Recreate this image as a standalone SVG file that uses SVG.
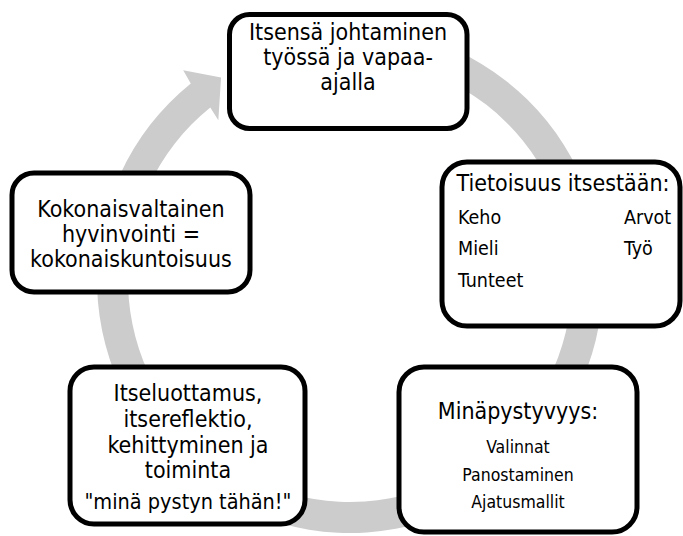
<svg xmlns="http://www.w3.org/2000/svg" width="683" height="536" viewBox="0 0 683 536">
  <style>
    .box { fill: #ffffff; stroke: #000000; stroke-width: 5; }
    .ring { fill: #cccccc; stroke: none; }
    text { font-family: "DejaVu Sans Condensed", "DejaVu Sans", sans-serif; font-stretch: condensed; fill: #000000; }
    .big { font-size: 23px; text-anchor: middle; }
    .mid { font-size: 19.5px; }
    .small { font-size: 17.5px; text-anchor: middle; }
  </style>

  <!-- circular arrow running clockwise round the five stages -->
  <g id="connectors">
    <path class="ring" d="M372.05 27.96 A253 253 0 1 1 190.78 83.38 L183.17 70.26 L221.05 77.59 L218.33 120.27 L210.29 107.47 A222 222 0 1 0 369.35 58.85 Z"/>
  </g>

  <g id="node-johtaminen">
    <rect class="box" x="229.5" y="14.5" width="237.5" height="114" rx="20"/>
    <text class="big" x="348" y="40">Itsensä johtaminen</text>
    <text class="big" x="348" y="65">työssä ja vapaa-</text>
    <text class="big" x="348" y="90">ajalla</text>
  </g>

  <g id="node-tietoisuus">
    <rect class="box" x="442" y="162" width="238" height="164" rx="25"/>
    <text class="big" x="563" y="191">Tietoisuus itsestään:</text>
    <text class="mid" x="458" y="224">Keho</text>
    <text class="mid" x="458" y="255">Mieli</text>
    <text class="mid" x="458" y="287">Tunteet</text>
    <text class="mid" x="624" y="224">Arvot</text>
    <text class="mid" x="624" y="255">Työ</text>
  </g>

  <g id="node-minapystyvyys">
    <rect class="box" x="399" y="367" width="238" height="165" rx="25"/>
    <text class="big" x="518" y="419">Minäpystyvyys:</text>
    <text class="small" x="518" y="453">Valinnat</text>
    <text class="small" x="518" y="481">Panostaminen</text>
    <text class="small" x="518" y="508">Ajatusmallit</text>
  </g>

  <g id="node-itseluottamus">
    <rect class="box" x="70" y="367" width="235" height="157" rx="24"/>
    <text class="big" x="188" y="401">Itseluottamus,</text>
    <text class="big" x="188" y="427">itsereflektio,</text>
    <text class="big" x="188" y="453">kehittyminen ja</text>
    <text class="big" x="188" y="478">toiminta</text>
    <text class="big" x="188" y="509" style="font-size:21.5px">"minä pystyn tähän!"</text>
  </g>

  <g id="node-hyvinvointi">
    <rect class="box" x="12" y="173" width="238" height="119" rx="22"/>
    <text class="big" x="131" y="217">Kokonaisvaltainen</text>
    <text class="big" x="131" y="242">hyvinvointi =</text>
    <text class="big" x="131" y="267">kokonaiskuntoisuus</text>
  </g>
</svg>
